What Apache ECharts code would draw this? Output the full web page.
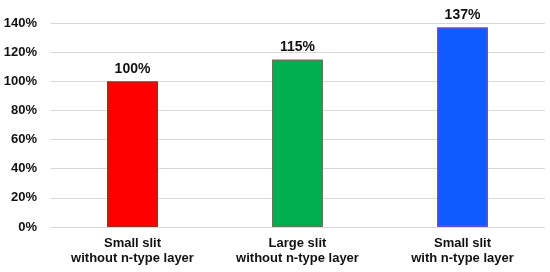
<!DOCTYPE html>
<html><head><meta charset="utf-8">
<script src="https://cdn.jsdelivr.net/npm/echarts@6/dist/echarts.min.js"></script>
<style>html,body{margin:0;padding:0;background:#fff}#c{width:550px;height:272px}</style>
</head><body><div id="c"></div>
<script>
const categories = ['Small slit\nwithout n-type layer', 'Large slit\nwithout n-type layer', 'Small slit\nwith n-type layer'];
const values = [100, 115, 137];
const barColors = ['#FF0000', '#00B050', '#0F5BFF'];
const barBorders = ['#A52A1A', '#5E7A5A', '#6A4FD0'];
const yTicks = { min: 0, max: 140, interval: 20 };

const chart = echarts.init(document.getElementById('c'));
chart.setOption({
  animation: false,
  grid: { left: 50, right: 5, top: 23, bottom: 45 },
  xAxis: {
    type: 'category', data: categories,
    axisLine: { show: false }, axisTick: { show: false },
    axisLabel: { color: '#111', fontFamily: 'Liberation Sans, Arial', fontWeight: 'bold', fontSize: 13, lineHeight: 15, margin: 9 }
  },
  yAxis: {
    type: 'value', min: yTicks.min, max: yTicks.max, interval: yTicks.interval,
    axisLine: { show: false }, axisTick: { show: false },
    splitLine: { lineStyle: { color: '#D9D9D9', width: 1 } },
    axisLabel: { formatter: '{value}%', color: '#111', fontFamily: 'Liberation Sans, Arial', fontWeight: 'bold', fontSize: 13, margin: 13 }
  },
  series: [{
    type: 'bar', barWidth: 51,
    data: values.map((v, i) => ({ value: v, itemStyle: { color: barColors[i], borderColor: barBorders[i], borderWidth: 1.5 } })),
    label: { show: true, position: 'top', distance: 5, formatter: '{c}%', color: '#111', fontFamily: 'Liberation Sans, Arial', fontWeight: 'bold', fontSize: 14 }
  }]
});
</script></body></html>
